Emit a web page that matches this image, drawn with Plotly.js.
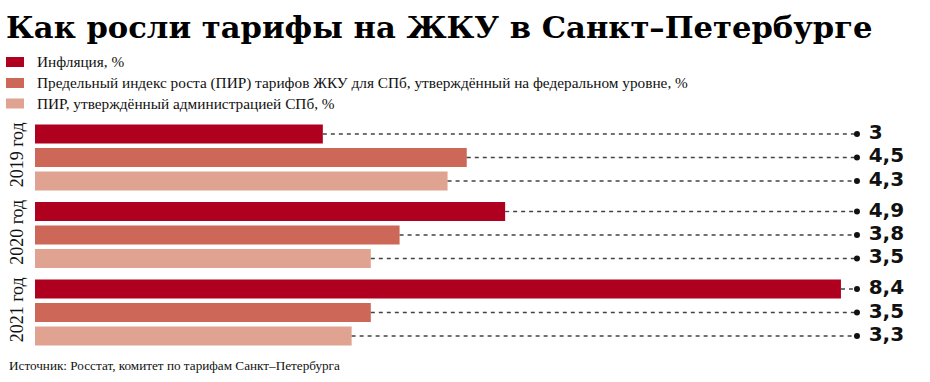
<!DOCTYPE html>
<html>
<head>
<meta charset="utf-8">
<script src="https://cdn.plot.ly/plotly-3.0.1.min.js"></script>
<style>html,body{margin:0;padding:0;background:#fff;}#chart{width:930px;height:382px;}</style>
</head>
<body>
<div id="chart"></div>
<script>
// ---- data ----
const years = ['2019 год', '2020 год', '2021 год'];
const seriesNames = [
  'Инфляция, %',
  'Предельный индекс роста (ПИР) тарифов ЖКУ для СПб, утверждённый на федеральном уровне, %',
  'ПИР, утверждённый администрацией СПб, %'
];
const inflation = [3, 4.9, 8.4];
const pirFederal = [4.5, 3.8, 3.5];
const pirSpb = [4.3, 3.5, 3.3];
const colors = ['#b0001f', '#cd6858', '#e1a391'];

// ---- layout helpers ----
const series = [inflation, pirFederal, pirSpb];
const ROW = 1, GROUP = 3.3;
const pos = (g, s) => g * GROUP + s * ROW;
const X_END = 8.567;     // where leader lines end (dot)
const X_MAX = 9.328;
const fmt = v => '\u00a0' + String(v).replace('.', ',');
const ML = 35, MT = 115, PW = 895, PH = 240;
const px = x => (x - ML) / PW;
const py = y => (MT + PH - y) / PH;

const traces = [];
series.forEach((vals, s) => {
  traces.push({
    type: 'bar', orientation: 'h', name: seriesNames[s],
    x: vals, y: years.map((_, g) => pos(g, s)),
    width: 0.81,
    marker: {color: colors[s], line: {width: 0}},
    hoverinfo: 'skip', showlegend: false
  });
});
series.forEach((vals, s) => {
  const xs = [], ys = [];
  vals.forEach((v, g) => { xs.push(v, X_END, null); ys.push(pos(g, s), pos(g, s), null); });
  traces.push({
    type: 'scatter', mode: 'lines', x: xs, y: ys, showlegend: false, hoverinfo: 'skip',
    line: {color: '#444', width: 1.3, dash: '4px,4px'}
  });
  traces.push({
    type: 'scatter', mode: 'markers+text', showlegend: false, hoverinfo: 'skip',
    x: vals.map(() => X_END), y: vals.map((_, g) => pos(g, s)),
    text: vals.map(fmt), textposition: 'middle right',
    marker: {color: '#111', size: 6},
    textfont: {family: 'DejaVu Sans', size: 20, color: '#111', weight: 'bold'}
  });
});

// manual legend (swatch + label)
const legendRows = [62, 83, 103.5];
const shapes = [], annotations = [];
seriesNames.forEach((name, s) => {
  const cy = legendRows[s];
  shapes.push({
    type: 'rect', xref: 'paper', yref: 'paper',
    x0: px(6), x1: px(24), y0: py(cy + 5), y1: py(cy - 5),
    fillcolor: colors[s], line: {width: 0}
  });
  annotations.push({
    text: name, xref: 'paper', yref: 'paper', x: px(35), y: py(cy),
    xanchor: 'left', yanchor: 'middle', showarrow: false,
    font: {family: 'Liberation Serif', size: 15.3, color: '#111'}
  });
});
annotations.push({
  text: 'Источник: Росстат, комитет по тарифам Санкт–Петербурга',
  xref: 'paper', yref: 'paper', x: px(7), y: py(365),
  xanchor: 'left', yanchor: 'middle', showarrow: false,
  font: {family: 'Liberation Serif', size: 13.2, color: '#111'}
});

const layout = {
  width: 930, height: 382,
  margin: {l: ML, r: 930 - ML - PW, t: MT, b: 382 - MT - PH},
  paper_bgcolor: '#fff', plot_bgcolor: '#fff',
  barmode: 'overlay',
  showlegend: false,
  title: {
    text: '<b>Как росли тарифы на ЖКУ в Санкт–Петербурге</b>',
    xref: 'container', yref: 'container', x: 6/930, xanchor: 'left',
    y: 1 - 27/382, yanchor: 'middle',
    font: {family: 'DejaVu Serif', size: 30.6, color: '#000'}
  },
  xaxis: {range: [0, X_MAX], visible: false, fixedrange: true},
  yaxis: {
    range: [9.409, -0.809], showgrid: false, zeroline: false, showline: false,
    tickvals: years.map((_, g) => pos(g, 1)), ticktext: years,
    tickangle: -90, ticks: '', ticklabelstandoff: 7,
    tickfont: {family: 'Liberation Serif', size: 18, color: '#111'}
  },
  shapes: shapes,
  annotations: annotations
};

Plotly.newPlot('chart', traces, layout, {displayModeBar: false, staticPlot: true});
</script>
</body>
</html>
